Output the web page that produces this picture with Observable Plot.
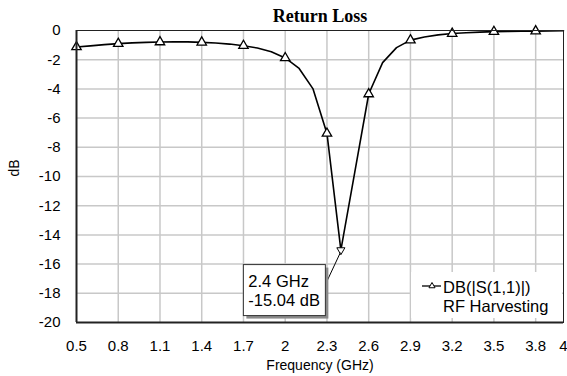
<!DOCTYPE html>
<html><head><meta charset="utf-8">
<script src="https://cdn.jsdelivr.net/npm/d3@7"></script>
<script src="https://cdn.jsdelivr.net/npm/@observablehq/plot@0.6"></script>
<style>body{margin:0;background:#fff;} svg{display:block}</style>
</head><body><div id="chart"></div>
<script>
const freq = [0.5,0.6,0.7,0.8,0.9,1.0,1.1,1.2,1.3,1.4,1.5,1.6,1.7,1.8,1.9,2.0,2.1,2.2,2.3,2.4,2.5,2.6,2.7,2.8,2.9,3.0,3.1,3.2,3.3,3.4,3.5,3.6,3.7,3.8,3.9,4.0];
const s11 = [-1.13,-1.05,-0.97,-0.90,-0.85,-0.81,-0.79,-0.77,-0.78,-0.81,-0.86,-0.93,-1.04,-1.20,-1.46,-1.88,-2.60,-4.00,-7.05,-15.04,-9.70,-4.35,-2.20,-1.17,-0.66,-0.44,-0.30,-0.21,-0.15,-0.11,-0.08,-0.06,-0.05,-0.04,-0.03,-0.02];
const markerFreq = [0.5,0.8,1.1,1.4,1.7,2.0,2.3,2.6,2.9,3.2,3.5,3.8];
const xTicks = [0.5,0.8,1.1,1.4,1.7,2,2.3,2.6,2.9,3.2,3.5,3.8,4];
const xGrid = [0.8,1.1,1.4,1.7,2,2.3,2.6,2.9,3.2,3.5,3.8];
const yTicks = [0,-2,-4,-6,-8,-10,-12,-14,-16,-18,-20];
const yGrid = [-2,-4,-6,-8,-10,-12,-14,-16,-18];
const minFreq = 2.4;
const minDb = -15.04;
const annotationLines = ["2.4 GHz", "-15.04 dB"];
const legendLines = ["DB(|S(1,1)|)", "RF Harvesting"];
const title = "Return Loss";
const xLabel = "Frequency (GHz)";
const yLabel = "dB";

const data = freq.map((f, i) => ({freq: f, db: s11[i]}));
const markers = data.filter(d => markerFreq.includes(d.freq));
const minPoint = [{freq: minFreq, db: minDb}];

const triDown = {draw(ctx, size) {
  const y = Math.sqrt(size / (3 * Math.sqrt(3)));
  ctx.moveTo(0, 2 * y);
  ctx.lineTo(-Math.sqrt(3) * y, -y);
  ctx.lineTo(Math.sqrt(3) * y, -y);
  ctx.closePath();
}};

const sans = "Arial, 'Liberation Sans', sans-serif";
const chart = Plot.plot({
  width: 567, height: 376,
  marginLeft: 76, marginRight: 4, marginTop: 30, marginBottom: 54,
  style: {fontFamily: sans, fontSize: "15px", color: "#000", background: "#fff", overflow: "visible"},
  x: {domain: [0.5, 4], ticks: xTicks, tickSize: 0, tickPadding: 18, tickFormat: d => String(d), label: null},
  y: {domain: [-20, 0], ticks: yTicks, tickSize: 0, tickPadding: 16, tickFormat: d => String(d), label: null},
  marks: [
    Plot.gridX(xGrid, {stroke: "#c8c8c8", strokeOpacity: 1, strokeWidth: 1.5}),
    Plot.gridY(yGrid, {stroke: "#c8c8c8", strokeOpacity: 1, strokeWidth: 1.5}),
    Plot.line(data, {x: "freq", y: "db", stroke: "#000", strokeWidth: 1.6}),
    Plot.dot(markers, {x: "freq", y: "db", symbol: "triangle", r: 3.5, fill: "white", stroke: "#000", strokeWidth: 1.3}),
    Plot.dot(minPoint, {x: "freq", y: "db", symbol: triDown, r: 3, fill: "white", stroke: "#000", strokeWidth: 1}),
    Plot.frame({stroke: "#222", strokeWidth: 1}),
    Plot.ruleX([0.5], {stroke: "#222", strokeWidth: 2}),
    Plot.ruleY([-20], {stroke: "#222", strokeWidth: 2}),
    Plot.text([title], {frameAnchor: "top", dy: -9, lineAnchor: "bottom", fontFamily: "'Liberation Serif', 'Times New Roman', serif", fontWeight: "bold", fontSize: 18}),
    Plot.text([xLabel], {frameAnchor: "bottom", dy: 47, fontSize: 14}),
    Plot.text([yLabel], {frameAnchor: "left", dx: -62, rotate: -90, fontSize: 14})
  ]
});
document.getElementById("chart").appendChild(chart);

const sx = chart.scale("x"), sy = chart.scale("y");
const svg = d3.select(chart);
const px = sx.apply(minFreq), py = sy.apply(minDb);

// annotation box
const bx = px - 97, by = py + 15, bw = 82, bh = 51;
const g = svg.append("g").attr("text-anchor", "start");
g.append("line").attr("x1", bx + bw).attr("y1", by + 20).attr("x2", px).attr("y2", py + 3)
  .attr("stroke", "#000").attr("stroke-width", 1);
g.append("rect").attr("x", bx + 3).attr("y", by + 3).attr("width", bw).attr("height", bh).attr("fill", "#8a8a8a");
g.append("rect").attr("x", bx).attr("y", by).attr("width", bw).attr("height", bh).attr("fill", "#fff").attr("stroke", "#333").attr("stroke-width", 1);
annotationLines.forEach((t, i) => {
  g.append("text").attr("x", bx + 5).attr("y", by + 22.5 + i * 19).attr("font-family", sans).attr("font-size", 16.5).attr("fill", "#000").text(t);
});

// legend
const fr = sx.range[1], fb = sy.range[0];
const lg = svg.append("g").attr("text-anchor", "start");
lg.append("rect").attr("x", fr - 152).attr("y", fb - 50).attr("width", 151).attr("height", 46).attr("fill", "#fff");
lg.append("line").attr("x1", fr - 141).attr("x2", fr - 122).attr("y1", fb - 36).attr("y2", fb - 36).attr("stroke", "#000").attr("stroke-width", 1.3);
lg.append("path").attr("d", d3.symbol(d3.symbolTriangle, 16)()).attr("transform", `translate(${fr - 131},${fb - 36})`)
  .attr("fill", "#fff").attr("stroke", "#000").attr("stroke-width", 1);
legendLines.forEach((t, i) => {
  lg.append("text").attr("x", fr - 120).attr("y", fb - 29 + i * 19).attr("font-family", sans).attr("font-size", 16.5).attr("fill", "#000").text(t);
});
</script>
</body></html>
